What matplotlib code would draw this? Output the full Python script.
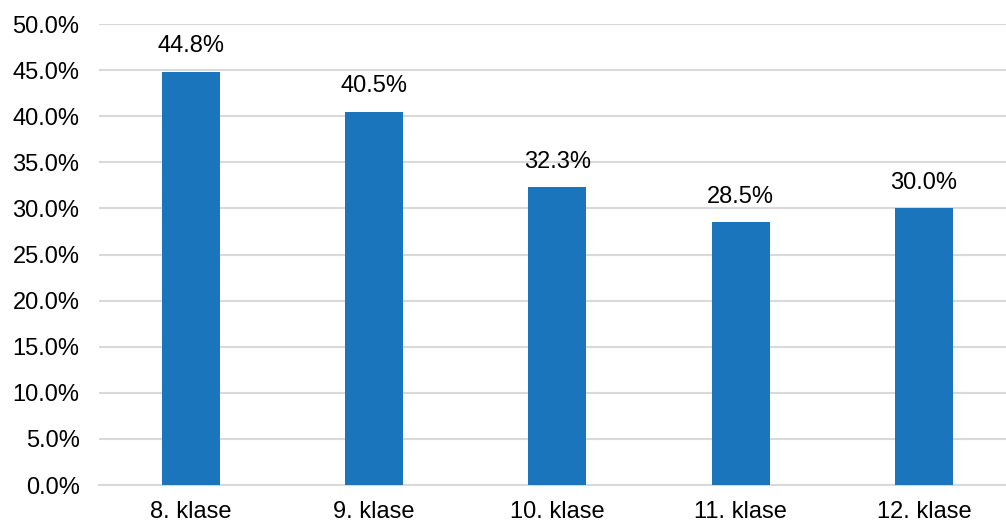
import matplotlib.pyplot as plt

plt.rcParams['font.family'] = ['Liberation Sans', 'DejaVu Sans']

categories = ['8. klase', '9. klase', '10. klase', '11. klase', '12. klase']
values = [44.8, 40.5, 32.3, 28.5, 30.0]

fig = plt.figure(figsize=(10.06, 5.25), dpi=100)
# axes runs a bit past the right edge, like the original
ax = fig.add_axes([99 / 1006, 40 / 525, 916.5 / 1006, 461 / 525])

x = range(len(categories))
ax.bar(x, values, width=0.316, color='#1B75BC', zorder=3)

for xi, v in zip(x, values):
    ax.annotate(f'{v:.1f}%', (xi, v), xytext=(0, 10.5), textcoords='offset points',
                ha='center', va='bottom', fontsize=17)

ax.set_xlim(-0.5, len(categories) - 0.5)
ax.set_ylim(0, 50)
ax.set_yticks([i * 5 for i in range(11)])
ax.set_yticklabels([f'{i * 5:.1f}%' for i in range(11)], fontsize=17)
ax.set_xticks(list(x))
ax.set_xticklabels(categories, fontsize=17)

ax.grid(axis='y', color='#D9D9D9', linewidth=1.5, zorder=0)
for s in ['top', 'right', 'left']:
    ax.spines[s].set_visible(False)
ax.spines['bottom'].set_color('#D9D9D9')
ax.spines['bottom'].set_linewidth(1.5)
ax.tick_params(axis='y', length=0, pad=14)
ax.tick_params(axis='x', length=0, pad=11.5)

fig.savefig('out.png', dpi=100)
